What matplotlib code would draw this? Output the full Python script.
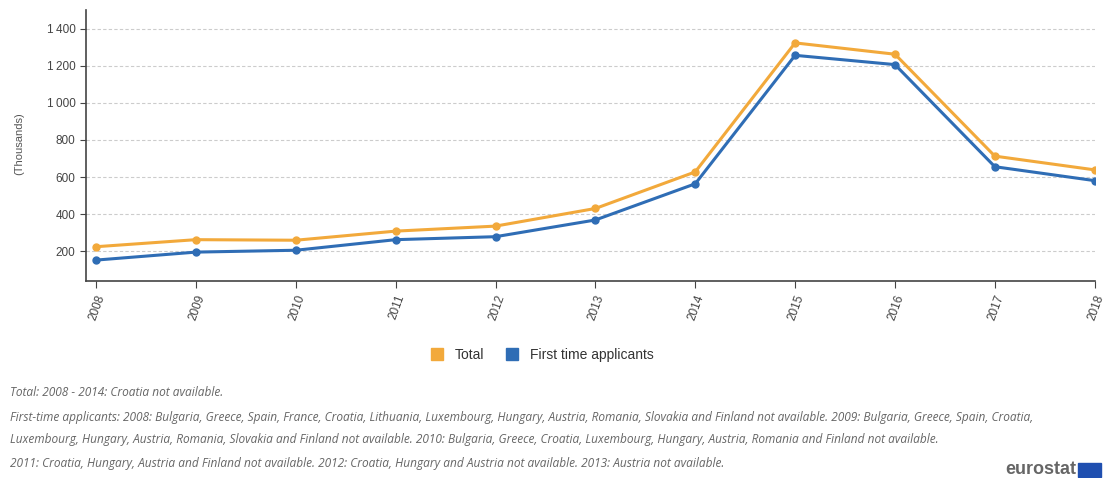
import matplotlib.pyplot as plt
from matplotlib.patches import Rectangle
from matplotlib.lines import Line2D
from matplotlib.ticker import FuncFormatter

years = [2008, 2009, 2010, 2011, 2012, 2013, 2014, 2015, 2016, 2017, 2018]
total = [225, 263, 260, 309, 336, 431, 628, 1323, 1262, 713, 639]
first_time = [153, 196, 206, 263, 279, 369, 564, 1256, 1206, 656, 581]
y_ticks = [200, 400, 600, 800, 1000, 1200, 1400]

orange = '#F2A93B'
blue = '#2F6DB5'

notes = [
    "Total: 2008 - 2014: Croatia not available.",
    "First-time applicants: 2008: Bulgaria, Greece, Spain, France, Croatia, Lithuania, Luxembourg, Hungary, Austria, Romania, Slovakia and Finland not available. 2009: Bulgaria, Greece, Spain, Croatia,",
    "Luxembourg, Hungary, Austria, Romania, Slovakia and Finland not available. 2010: Bulgaria, Greece, Croatia, Luxembourg, Hungary, Austria, Romania and Finland not available.",
    "2011: Croatia, Hungary, Austria and Finland not available. 2012: Croatia, Hungary and Austria not available. 2013: Austria not available.",
]

plt.rcParams['font.family'] = ['Liberation Sans', 'DejaVu Sans']

fig = plt.figure(figsize=(11.06, 4.78), dpi=100)
ax = fig.add_axes([0.0778, 0.412, 0.912, 0.567])

ax.plot(years, total, color=orange, linewidth=2.2, marker='o', markersize=5, zorder=3)
ax.plot(years, first_time, color=blue, linewidth=2.2, marker='o', markersize=5, zorder=3)

ax.set_xlim(2007.9, 2018.0)
ax.set_ylim(40, 1500)
ax.set_xticks(years)
ax.set_xticklabels([str(y) for y in years], rotation=70, ha='right', rotation_mode='anchor',
                   fontsize=8.5, color='#444444')
ax.set_yticks(y_ticks)
ax.yaxis.set_major_formatter(FuncFormatter(lambda v, p: f"{int(v):,}".replace(",", "\u2009")))
ax.tick_params(axis='y', labelsize=8.5, colors='#444444', length=4, width=0.8)
ax.tick_params(axis='x', length=5, width=0.8, colors='#444444')

ax.grid(True, axis='y', linestyle=(0, (3, 2)), color='#cccccc', linewidth=0.8)
ax.set_axisbelow(True)
for s in ['top', 'right']:
    ax.spines[s].set_visible(False)
ax.spines['left'].set_color('#444444')
ax.spines['bottom'].set_color('#444444')
ax.spines['left'].set_linewidth(1.2)
ax.spines['bottom'].set_linewidth(1.2)

fig.text(0.017, 0.70, "(Thousands)", rotation=90, ha='center', va='center', fontsize=8, color='#555555')

handles = [Line2D([], [], linestyle='none', marker='s', markersize=8, color=orange),
           Line2D([], [], linestyle='none', marker='s', markersize=8, color=blue)]
fig.legend(handles, ["Total", "First time applicants"], loc='center', bbox_to_anchor=(0.487, 0.257),
           ncol=2, frameon=False, fontsize=10, handletextpad=0.3, columnspacing=1.0,
           labelcolor='#333333')

note_y = [393, 417, 440, 464]
for txt, yp in zip(notes, note_y):
    fig.text(10 / 1106, 1 - yp / 478, txt, fontsize=8.6, style='italic', color='#666666',
             va='center', ha='left', family=['Open Sans', 'DejaVu Sans'])

fig.text(1076 / 1106, 1 - 470 / 478, "eurostat", fontsize=13, color='#666666', ha='right',
         va='center', fontweight='bold')
fig.patches.append(Rectangle((1078 / 1106, 1 - 477 / 478), 23 / 1106, 14 / 478,
                             transform=fig.transFigure, color='#1F4FB0'))

fig.savefig('out.png', dpi=100, facecolor='white')
